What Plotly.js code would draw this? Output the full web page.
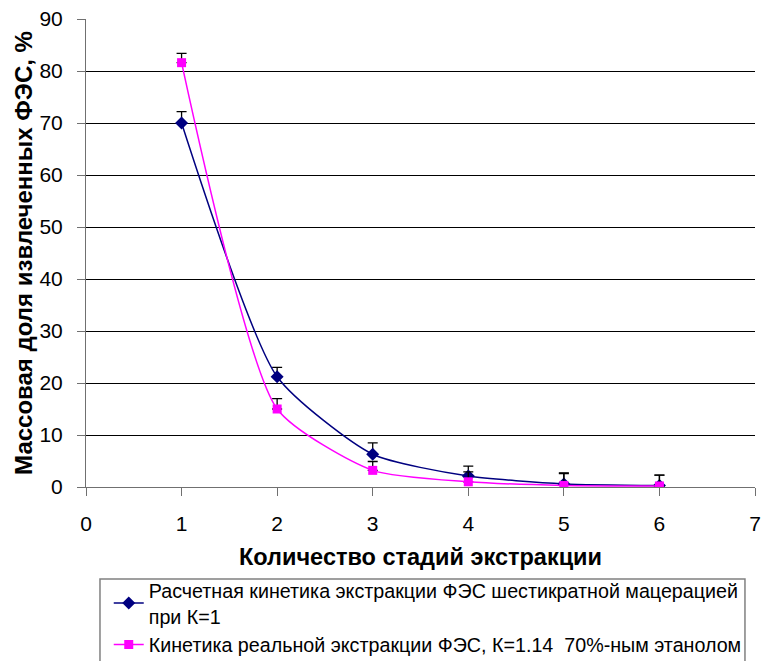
<!DOCTYPE html>
<html>
<head>
<meta charset="utf-8">
<script src="https://cdn.plot.ly/plotly-3.0.1.min.js"></script>
<style>body{margin:0;padding:0;background:#fff;}#chart{width:761px;height:661px;}</style>
</head>
<body>
<div id="chart"></div>
<script>
const stages = [1, 2, 3, 4, 5, 6];
const calcValues = [70, 21.2, 6.3, 2.1, 0.6, 0.3];
const calcErr = [2.2, 1.8, 2.2, 1.9, 2.1, 2.0];
const realValues = [81.6, 15.0, 3.2, 1.0, 0.3, 0.2];
const realErr = [1.8, 2.0, 1.7, 1.9, 2.3, 2.1];
const calcName = 'Расчетная кинетика экстракции ФЭС шестикратной мацерацией<br>при К=1';
const realName = 'Кинетика реальной экстракции ФЭС, К=1.14  70%-ным этанолом';
const xTitle = 'Количество стадий экстракции';
const yTitle = 'Массовая доля извлеченных ФЭС, %';

const font = 'Liberation Sans, Arial, sans-serif';

const traces = [
  {
    x: stages, y: calcValues, name: calcName, type: 'scatter', mode: 'lines+markers',
    line: {color: '#000080', width: 1.5, shape: 'spline', smoothing: 0.6},
    marker: {symbol: 'diamond', size: 10, color: '#000080'},
    error_y: {type: 'data', symmetric: false, array: calcErr, arrayminus: calcErr.map(() => 0),
      color: '#000000', thickness: 1.3, width: 5}
  },
  {
    x: stages, y: realValues, name: realName, type: 'scatter', mode: 'lines+markers',
    line: {color: '#FF00FF', width: 1.5, shape: 'spline', smoothing: 0.6},
    marker: {symbol: 'square', size: 9, color: '#FF00FF'},
    error_y: {type: 'data', symmetric: false, array: realErr, arrayminus: realErr.map(() => 0),
      color: '#000000', thickness: 1.3, width: 5}
  }
];

const layout = {
  width: 761, height: 661,
  margin: {l: 86, r: 6, t: 19, b: 174, autoexpand: false},
  paper_bgcolor: '#ffffff', plot_bgcolor: '#ffffff',
  font: {family: font, color: '#000', size: 19.7},
  showlegend: true,
  xaxis: {
    range: [0, 7], dtick: 1, tick0: 0, showgrid: false, zeroline: false,
    showline: true, linecolor: '#707070', linewidth: 1,
    ticks: 'outside', ticklen: 8, tickcolor: '#707070',
    ticklabelstandoff: 10, automargin: false,
    tickfont: {family: font, size: 21, color: '#000'},
    title: {text: xTitle, font: {family: font, size: 23.5, color: '#000', weight: 'bold'}, standoff: 14}
  },
  yaxis: {
    range: [0, 90], dtick: 10, tick0: 0, showgrid: true, gridcolor: '#000000', gridwidth: 1,
    zeroline: false, showline: true, linecolor: '#707070', linewidth: 1,
    ticks: 'outside', ticklen: 8, tickcolor: '#707070',
    ticklabelstandoff: 10, automargin: false,
    tickfont: {family: font, size: 21, color: '#000'},
    title: {text: yTitle, font: {family: font, size: 24, color: '#000', weight: 'bold'}, standoff: 0}
  },
  legend: {
    x: 0.034, xanchor: 'left', y: -0.1795, yanchor: 'top',
    bgcolor: 'rgba(0,0,0,0)', borderwidth: 0,
    font: {family: font, size: 19.7, color: '#000'},
    tracegroupgap: 0
  },
  shapes: [
    {type: 'rect', xref: 'paper', yref: 'paper', x0: 0.0209, x1: 0.985, y0: -0.1966, y1: -0.45,
      line: {color: '#808080', width: 1.5}, fillcolor: 'rgba(0,0,0,0)'}
  ]
};

Plotly.newPlot('chart', traces, layout, {displayModeBar: false, staticPlot: true});
</script>
</body>
</html>
